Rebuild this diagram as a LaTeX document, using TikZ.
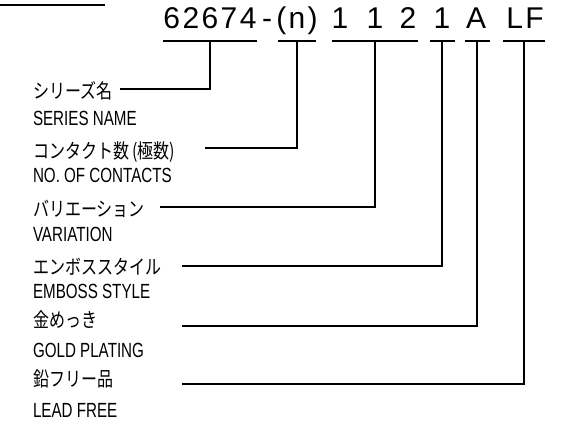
\documentclass[tikz,border=0pt]{standalone}
\usepackage{fontspec}
\setmainfont{Liberation Sans}[FakeStretch=0.74]
\newfontfamily\codefont{Liberation Sans}[LetterSpace=8]
\newfontfamily\jp{Noto Sans CJK JP}[FakeStretch=0.8]
\begin{document}
\begin{tikzpicture}[x=1pt,y=-1pt,
  every node/.style={inner sep=0pt,outer sep=0pt},
  codetxt/.style={anchor=base,font=\codefont\fontsize{30}{32}\selectfont},
  ul/.style={minimum width=#1,minimum height=0pt},
  jplabel/.style={anchor=west,font=\jp\fontsize{20}{22}\selectfont},
  enlabel/.style={anchor=base west,font=\fontsize{20.5}{22}\selectfont},
  conn/.style={line width=1.1pt},
  uline/.style={line width=1.1pt}]
\useasboundingbox (0,0) rectangle (572,425);
% top-left rule
\coordinate (tl0) at (0,5);
\coordinate (tl1) at (105,5);
\draw[uline] (tl0) -- (tl1);
% code characters
\node[codetxt] (c1) at (210,29) {62674};
\node[codetxt] (cdash) at (267,29) {-};
\node[codetxt] (c2) at (297,29) {(n)};
\node[codetxt] (c3a) at (340,29) {1};
\node[codetxt] (c3b) at (375,29) {1};
\node[codetxt] (c3c) at (408,29) {2};
\node[codetxt] (c4) at (442,29) {1};
\node[codetxt] (c5) at (476,29) {A};
\node[codetxt] (c6) at (525,29) {LF};
% underlines
\node[ul=94] (u1) at (210,41) {};
\node[ul=38] (u2) at (297,41) {};
\node[ul=86] (u3) at (375,41) {};
\node[ul=25] (u4) at (442,41) {};
\node[ul=25] (u5) at (477,41) {};
\node[ul=42] (u6) at (524,41) {};
\foreach \u in {u1,u2,u3,u4,u5,u6}{\draw[uline] (\u.west) -- (\u.east);}
% labels
\node[jplabel] (j1) at (33,91) {シリーズ名};
\node[enlabel] (e1) at (33,125) {SERIES NAME};
\node[jplabel] (j2) at (33,152) {コンタクト数 (極数)};
\node[enlabel] (e2) at (33,182) {NO. OF CONTACTS};
\node[jplabel] (j3) at (33,209) {バリエーション};
\node[enlabel] (e3) at (33,241) {VARIATION};
\node[jplabel] (j4) at (33,267) {エンボススタイル};
\node[enlabel] (e4) at (33,298) {EMBOSS STYLE};
\node[jplabel] (j5) at (33,320) {金めっき};
\node[enlabel] (e5) at (33,357) {GOLD PLATING};
\node[jplabel] (j6) at (33,379) {鉛フリー品};
\node[enlabel] (e6) at (33,417) {LEAD FREE};
% leader ends
\coordinate (k1) at (120,89);
\coordinate (k2) at (205,148);
\coordinate (k3) at (160,207);
\coordinate (k4) at (182,266);
\coordinate (k5) at (182,326);
\coordinate (k6) at (182,384);
\draw[conn] (u1.center) |- (k1);
\draw[conn] (u2.center) |- (k2);
\draw[conn] (u3.center) |- (k3);
\draw[conn] (u4.center) |- (k4);
\draw[conn] (u5.center) |- (k5);
\draw[conn] (u6.center) |- (k6);
\end{tikzpicture}
\end{document}
